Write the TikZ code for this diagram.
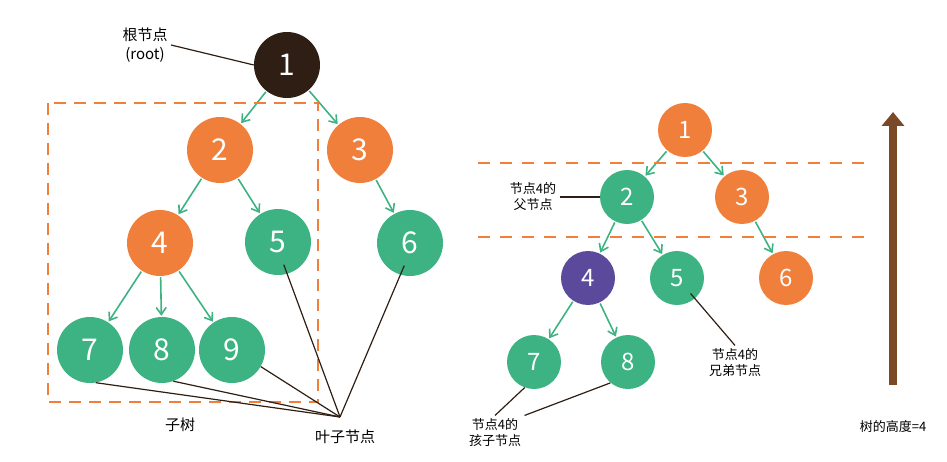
\documentclass[tikz,border=0pt]{standalone}
\usepackage{fontspec}
\setmainfont{Noto Sans CJK SC}
\usetikzlibrary{arrows.meta}
\definecolor{treeorange}{RGB}{240,127,60}
\definecolor{treegreen}{RGB}{61,179,131}
\definecolor{treepurple}{RGB}{91,74,155}
\definecolor{treeroot}{RGB}{46,30,20}
\definecolor{treebrown}{RGB}{122,74,40}
\begin{document}
\begin{tikzpicture}[x=1pt,y=-1pt]
    \tikzset{big/.style = {circle, minimum size=66pt, inner sep=0pt, text=white, font=\fontsize{30}{30}\selectfont}}
    \tikzset{small/.style = {circle, minimum size=54pt, inner sep=0pt, text=white, font=\fontsize{24}{24}\selectfont}}
    \tikzset{arr/.style = {-{Straight Barb[length=7pt,width=10pt]}, treegreen, line width=1.6pt, shorten <=1pt, shorten >=1pt}}
    \tikzset{lbl/.style = {font=\fontsize{13}{16}\selectfont, align=center}}
    \tikzset{pointer/.style = {line width=1.2pt, treeroot}}
    \useasboundingbox (0,0) rectangle (947,462);

    % left tree
    \node[big, fill=treeroot] (l1) at (287,65) {1};
    \node[big, fill=treeorange] (l2) at (220,150) {2};
    \node[big, fill=treeorange] (l3) at (360,150) {3};
    \node[big, fill=treeorange] (l4) at (160,243) {4};
    \node[big, fill=treegreen] (l5) at (278,242) {5};
    \node[big, fill=treegreen] (l6) at (410,243) {6};
    \node[big, fill=treegreen] (l7) at (90,350) {7};
    \node[big, fill=treegreen] (l8) at (162,350) {8};
    \node[big, fill=treegreen] (l9) at (232,350) {9};

    \draw[arr] (l1) -- (l2);
    \draw[arr] (l1) -- (l3);
    \draw[arr] (l2) -- (l4);
    \draw[arr] (l2) -- (l5);
    \draw[arr] (l3) -- (l6);
    \draw[arr] (l4) -- (l7);
    \draw[arr] (l4) -- (l8);
    \draw[arr] (l4) -- (l9);

    \draw[treeorange, dash pattern=on 12pt off 8pt, line width=2pt] (48,103) rectangle (318,402);

    \node[lbl, font=\fontsize{15}{19}\selectfont] (rootlbl) at (145,45) {根节点\\(root)};
    \draw[pointer] (rootlbl.east) -- (l1.west);
    \node[lbl, font=\fontsize{15}{19}\selectfont] (subtree) at (180,425) {子树};
    \node[lbl, font=\fontsize{15}{19}\selectfont] (leaves) at (345,437) {叶子节点};
    \coordinate (lf) at (340,417);
    \draw[pointer] (lf) -- ([yshift=10pt]l5.-80);
    \draw[pointer] (lf) -- ([yshift=10pt]l6.-100);
    \draw[pointer] (lf) -- (l7.-80);
    \draw[pointer] (lf) -- (l8.-70);
    \draw[pointer] (lf) -- (l9.-30);

    % right tree
    \node[small, fill=treeorange] (r1) at (685,130) {1};
    \node[small, fill=treegreen] (r2) at (627,197) {2};
    \node[small, fill=treeorange] (r3) at (742,197) {3};
    \node[small, fill=treepurple] (r4) at (588,278) {4};
    \node[small, fill=treegreen] (r5) at (677,278) {5};
    \node[small, fill=treeorange] (r6) at (786,278) {6};
    \node[small, fill=treegreen] (r7) at (534,362) {7};
    \node[small, fill=treegreen] (r8) at (628,362) {8};

    \draw[arr] (r1) -- (r2);
    \draw[arr] (r1) -- (r3);
    \draw[arr] (r2) -- (r4);
    \draw[arr] (r2) -- (r5);
    \draw[arr] (r3) -- (r6);
    \draw[arr] (r4) -- (r7);
    \draw[arr] (r4) -- (r8);

    \draw[treeorange, dash pattern=on 12pt off 10pt, line width=2pt] (478,163) -- (865,163);
    \draw[treeorange, dash pattern=on 12pt off 10pt, line width=2pt] (478,237) -- (872,237);

    \node[lbl] (parent) at (533,197) {节点4的\\父节点};
    \draw[pointer] (parent.east) -- (r2.west);
    \node[lbl] (sibling) at (735,363) {节点4的\\兄弟节点};
    \draw[pointer] ([yshift=8pt]r5.-60) -- (sibling.north);
    \node[lbl] (child) at (495,433) {节点4的\\孩子节点};
    \draw[pointer] (child.north) -- (r7.-110);
    \draw[pointer] (child.north east) -- (r8.-130);

    % height
    \node[lbl] (height) at (893,427) {树的高度=4};
    \coordinate (hbase) at (893,385);
    \coordinate (htop) at (893,112);
    \draw[treebrown, line width=8pt, -{Triangle[length=14pt,width=22pt]}] (hbase) -- (htop);
\end{tikzpicture}
\end{document}
